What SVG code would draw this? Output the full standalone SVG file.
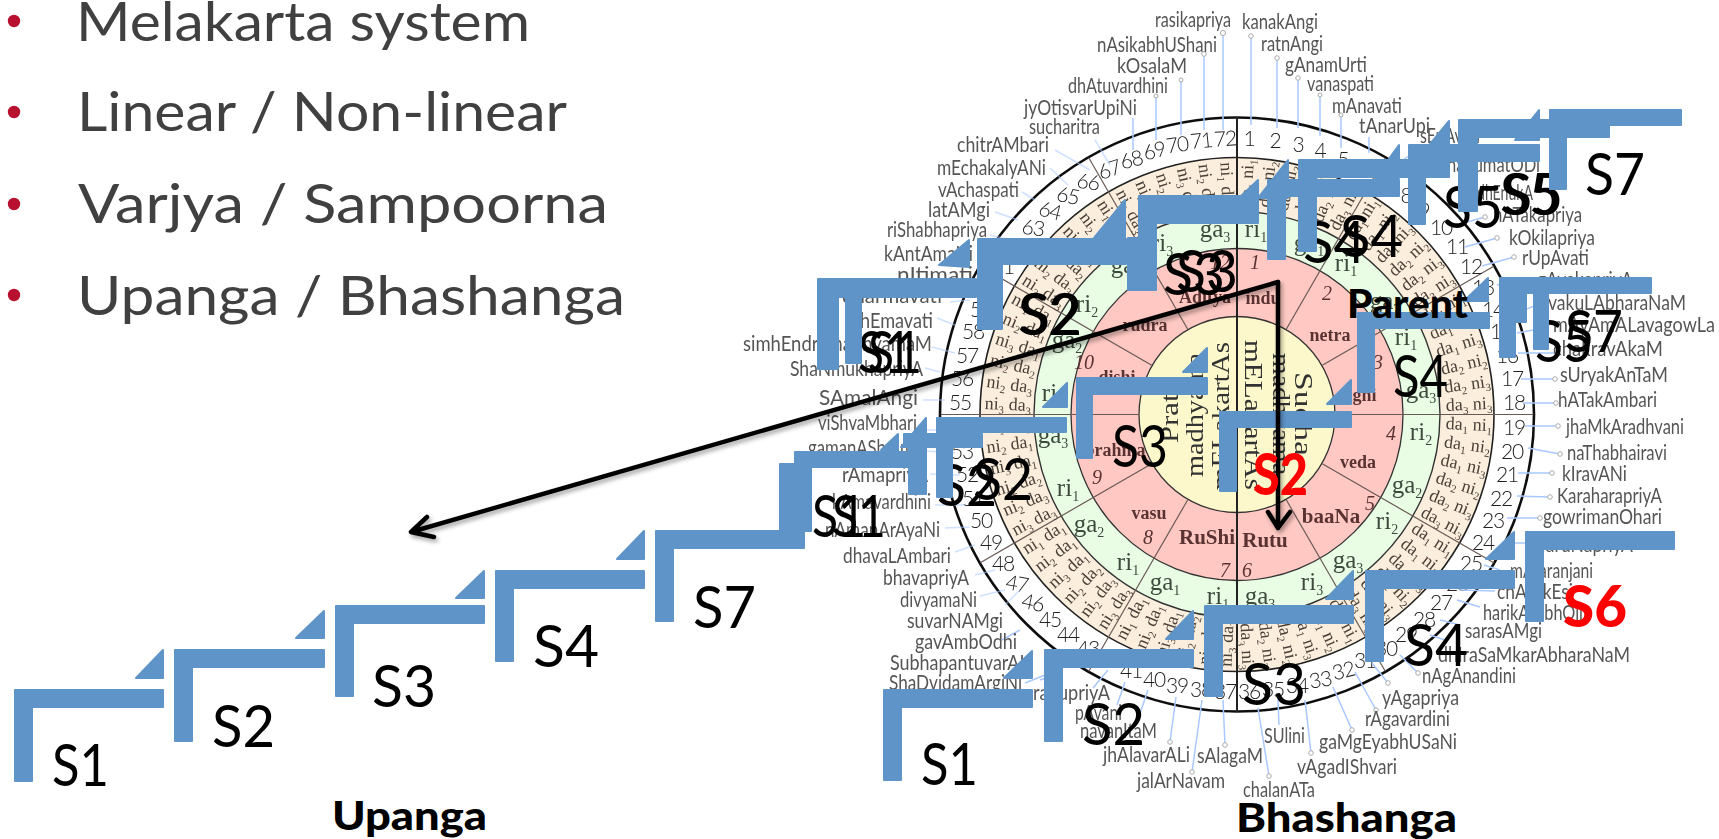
<svg xmlns="http://www.w3.org/2000/svg" width="1719" height="839" viewBox="0 0 1719 839">
<style>
.h{font:400 54px Lato,"Liberation Sans",sans-serif;fill:#404040}
.s{font:400 58px Lato,"Liberation Sans",sans-serif;fill:#000}
.t{font:900 39px Lato,"Liberation Sans",sans-serif;fill:#000}
.red{font-weight:900;fill:#f00}
.b{fill:#5f94c8;stroke:#5f94c8;stroke-width:2;stroke-linejoin:round}
.r{font:400 21px Lato,"Liberation Sans",sans-serif;fill:#555}
.n{font:300 21px Lato,"Liberation Sans",sans-serif;fill:#222;text-anchor:middle;letter-spacing:-1.2px}
.m{font:400 18px "Liberation Serif",serif;fill:#4a4038}
.e{text-anchor:end}
.g{font:400 25px "Liberation Serif",serif;fill:#3c4a3c;text-anchor:middle}
.c{font:700 18px "Liberation Serif",serif;fill:#5a3232;text-anchor:middle}
.d{font:italic 400 20px "Liberation Serif",serif;fill:#5a3232;text-anchor:middle}
.y{font:400 25px "Liberation Serif",serif;fill:#333}
.l{stroke:#a9c8ff;stroke-width:1.5;fill:none}
.o{fill:#fff;stroke:#aaa;stroke-width:1}
.k{fill:none;stroke:#000;stroke-width:4.5;stroke-linecap:round;stroke-linejoin:round}
.p{stroke:#6a5a55;stroke-width:1.2}
</style>
<defs>
<filter id="soft" x="-5%" y="-5%" width="110%" height="110%"><feGaussianBlur stdDeviation="0.4"/></filter>
<filter id="sh" x="-10%" y="-10%" width="120%" height="120%"><feDropShadow dx="2" dy="3" stdDeviation="2" flood-color="#000" flood-opacity=".35"/></filter>
<line id="sp" class="p" x1="1237" y1="118" x2="1237" y2="316"/>
<text id="m1" class="m" x="1446" y="420">da<tspan dy="4" font-size="11">1</tspan><tspan dy="-4"> ni</tspan><tspan dy="4" font-size="11">1</tspan></text>
<text id="m2" class="m" x="1446" y="420">da<tspan dy="4" font-size="11">1</tspan><tspan dy="-4"> ni</tspan><tspan dy="4" font-size="11">2</tspan></text>
<text id="m3" class="m" x="1446" y="420">da<tspan dy="4" font-size="11">1</tspan><tspan dy="-4"> ni</tspan><tspan dy="4" font-size="11">3</tspan></text>
<text id="m4" class="m" x="1446" y="420">da<tspan dy="4" font-size="11">2</tspan><tspan dy="-4"> ni</tspan><tspan dy="4" font-size="11">2</tspan></text>
<text id="m5" class="m" x="1446" y="420">da<tspan dy="4" font-size="11">2</tspan><tspan dy="-4"> ni</tspan><tspan dy="4" font-size="11">3</tspan></text>
<text id="m6" class="m" x="1446" y="420">da<tspan dy="4" font-size="11">3</tspan><tspan dy="-4"> ni</tspan><tspan dy="4" font-size="11">3</tspan></text>
<text id="n1" class="m e" x="1031" y="420">ni<tspan dy="4" font-size="11">3</tspan><tspan dy="-4"> da</tspan><tspan dy="4" font-size="11">3</tspan></text>
<text id="n2" class="m e" x="1031" y="420">ni<tspan dy="4" font-size="11">2</tspan><tspan dy="-4"> da</tspan><tspan dy="4" font-size="11">3</tspan></text>
<text id="n3" class="m e" x="1031" y="420">ni<tspan dy="4" font-size="11">2</tspan><tspan dy="-4"> da</tspan><tspan dy="4" font-size="11">2</tspan></text>
<text id="n4" class="m e" x="1031" y="420">ni<tspan dy="4" font-size="11">3</tspan><tspan dy="-4"> da</tspan><tspan dy="4" font-size="11">1</tspan></text>
<text id="n5" class="m e" x="1031" y="420">ni<tspan dy="4" font-size="11">2</tspan><tspan dy="-4"> da</tspan><tspan dy="4" font-size="11">1</tspan></text>
<text id="n6" class="m e" x="1031" y="420">ni<tspan dy="4" font-size="11">1</tspan><tspan dy="-4"> da</tspan><tspan dy="4" font-size="11">1</tspan></text>
</defs>
<rect width="1719" height="839" fill="#fff"/>

<g id="bullets">
<circle cx="14" cy="21" r="6.2" fill="#b8102f"/><circle cx="14" cy="112" r="6.2" fill="#b8102f"/><circle cx="14" cy="204" r="6.2" fill="#b8102f"/><circle cx="14" cy="295" r="6.2" fill="#b8102f"/>
<text class="h" x="76" y="41" textLength="454" lengthAdjust="spacingAndGlyphs">Melakarta system</text>
<text class="h" x="77" y="131" textLength="490" lengthAdjust="spacingAndGlyphs">Linear / Non-linear</text>
<text class="h" x="78" y="223" textLength="530" lengthAdjust="spacingAndGlyphs">Varjya / Sampoorna</text>
<text class="h" x="77" y="315" textLength="548" lengthAdjust="spacingAndGlyphs">Upanga / Bhashanga</text>
</g>

<g id="wheel" filter="url(#soft)">
<circle cx="1237" cy="414.5" r="297" fill="#fff" stroke="#111" stroke-width="2.6"/>
<circle cx="1237" cy="414.5" r="257" fill="#fbeedd" stroke="#222" stroke-width="1.6"/>
<circle cx="1237" cy="414.5" r="203" fill="#e9fde4" stroke="#333" stroke-width="1.4"/>
<circle cx="1237" cy="414.5" r="166" fill="#ffc8c2" stroke="#333" stroke-width="1.3"/>
<circle cx="1237" cy="414.5" r="98" fill="#fdf8cb" stroke="#333" stroke-width="1.3"/>
<use href="#sp" transform="rotate(30 1237 414.5)"/><use href="#sp" transform="rotate(60 1237 414.5)"/><use href="#sp" transform="rotate(90 1237 414.5)"/><use href="#sp" transform="rotate(120 1237 414.5)"/><use href="#sp" transform="rotate(150 1237 414.5)"/><use href="#sp" transform="rotate(210 1237 414.5)"/><use href="#sp" transform="rotate(240 1237 414.5)"/><use href="#sp" transform="rotate(270 1237 414.5)"/><use href="#sp" transform="rotate(300 1237 414.5)"/><use href="#sp" transform="rotate(330 1237 414.5)"/>
<line x1="1237" y1="117" x2="1237" y2="712" stroke="#222" stroke-width="2"/>

<use href="#m1" transform="rotate(-87.5 1237 414.5)"/><use href="#m2" transform="rotate(-82.5 1237 414.5)"/><use href="#m3" transform="rotate(-77.5 1237 414.5)"/><use href="#m4" transform="rotate(-72.5 1237 414.5)"/><use href="#m5" transform="rotate(-67.5 1237 414.5)"/><use href="#m6" transform="rotate(-62.5 1237 414.5)"/>
<use href="#m1" transform="rotate(-57.5 1237 414.5)"/><use href="#m2" transform="rotate(-52.5 1237 414.5)"/><use href="#m3" transform="rotate(-47.5 1237 414.5)"/><use href="#m4" transform="rotate(-42.5 1237 414.5)"/><use href="#m5" transform="rotate(-37.5 1237 414.5)"/><use href="#m6" transform="rotate(-32.5 1237 414.5)"/>
<use href="#m1" transform="rotate(-27.5 1237 414.5)"/><use href="#m2" transform="rotate(-22.5 1237 414.5)"/><use href="#m3" transform="rotate(-17.5 1237 414.5)"/><use href="#m4" transform="rotate(-12.5 1237 414.5)"/><use href="#m5" transform="rotate(-7.5 1237 414.5)"/><use href="#m6" transform="rotate(-2.5 1237 414.5)"/>
<use href="#m1" transform="rotate(2.5 1237 414.5)"/><use href="#m2" transform="rotate(7.5 1237 414.5)"/><use href="#m3" transform="rotate(12.5 1237 414.5)"/><use href="#m4" transform="rotate(17.5 1237 414.5)"/><use href="#m5" transform="rotate(22.5 1237 414.5)"/><use href="#m6" transform="rotate(27.5 1237 414.5)"/>
<use href="#m1" transform="rotate(32.5 1237 414.5)"/><use href="#m2" transform="rotate(37.5 1237 414.5)"/><use href="#m3" transform="rotate(42.5 1237 414.5)"/><use href="#m4" transform="rotate(47.5 1237 414.5)"/><use href="#m5" transform="rotate(52.5 1237 414.5)"/><use href="#m6" transform="rotate(57.5 1237 414.5)"/>
<use href="#m1" transform="rotate(62.5 1237 414.5)"/><use href="#m2" transform="rotate(67.5 1237 414.5)"/><use href="#m3" transform="rotate(72.5 1237 414.5)"/><use href="#m4" transform="rotate(77.5 1237 414.5)"/><use href="#m5" transform="rotate(82.5 1237 414.5)"/><use href="#m6" transform="rotate(87.5 1237 414.5)"/>

<use href="#n1" transform="rotate(-87.5 1237 414.5)"/><use href="#n2" transform="rotate(-82.5 1237 414.5)"/><use href="#n3" transform="rotate(-77.5 1237 414.5)"/><use href="#n4" transform="rotate(-72.5 1237 414.5)"/><use href="#n5" transform="rotate(-67.5 1237 414.5)"/><use href="#n6" transform="rotate(-62.5 1237 414.5)"/>
<use href="#n1" transform="rotate(-57.5 1237 414.5)"/><use href="#n2" transform="rotate(-52.5 1237 414.5)"/><use href="#n3" transform="rotate(-47.5 1237 414.5)"/><use href="#n4" transform="rotate(-42.5 1237 414.5)"/><use href="#n5" transform="rotate(-37.5 1237 414.5)"/><use href="#n6" transform="rotate(-32.5 1237 414.5)"/>
<use href="#n1" transform="rotate(-27.5 1237 414.5)"/><use href="#n2" transform="rotate(-22.5 1237 414.5)"/><use href="#n3" transform="rotate(-17.5 1237 414.5)"/><use href="#n4" transform="rotate(-12.5 1237 414.5)"/><use href="#n5" transform="rotate(-7.5 1237 414.5)"/><use href="#n6" transform="rotate(-2.5 1237 414.5)"/>
<use href="#n1" transform="rotate(2.5 1237 414.5)"/><use href="#n2" transform="rotate(7.5 1237 414.5)"/><use href="#n3" transform="rotate(12.5 1237 414.5)"/><use href="#n4" transform="rotate(17.5 1237 414.5)"/><use href="#n5" transform="rotate(22.5 1237 414.5)"/><use href="#n6" transform="rotate(27.5 1237 414.5)"/>
<use href="#n1" transform="rotate(32.5 1237 414.5)"/><use href="#n2" transform="rotate(37.5 1237 414.5)"/><use href="#n3" transform="rotate(42.5 1237 414.5)"/><use href="#n4" transform="rotate(47.5 1237 414.5)"/><use href="#n5" transform="rotate(52.5 1237 414.5)"/><use href="#n6" transform="rotate(57.5 1237 414.5)"/>
<use href="#n1" transform="rotate(62.5 1237 414.5)"/><use href="#n2" transform="rotate(67.5 1237 414.5)"/><use href="#n3" transform="rotate(72.5 1237 414.5)"/><use href="#n4" transform="rotate(77.5 1237 414.5)"/><use href="#n5" transform="rotate(82.5 1237 414.5)"/><use href="#n6" transform="rotate(87.5 1237 414.5)"/>

<g font-size="25">
<text class="g" x="1256" y="237">ri<tspan dy="5" font-size="14">1</tspan></text>
<text class="g" x="1309" y="251">ga<tspan dy="5" font-size="14">1</tspan></text>
<text class="g" x="1346" y="271">ri<tspan dy="5" font-size="14">1</tspan></text>
<text class="g" x="1385" y="309">ga<tspan dy="5" font-size="14">2</tspan></text>
<text class="g" x="1406" y="345">ri<tspan dy="5" font-size="14">1</tspan></text>
<text class="g" x="1421" y="398">ga<tspan dy="5" font-size="14">3</tspan></text>
<text class="g" x="1421" y="440">ri<tspan dy="5" font-size="14">2</tspan></text>
<text class="g" x="1407" y="493">ga<tspan dy="5" font-size="14">2</tspan></text>
<text class="g" x="1387" y="529">ri<tspan dy="5" font-size="14">2</tspan></text>
<text class="g" x="1348" y="568">ga<tspan dy="5" font-size="14">3</tspan></text>
<text class="g" x="1312" y="590">ri<tspan dy="5" font-size="14">3</tspan></text>
<text class="g" x="1260" y="604">ga<tspan dy="5" font-size="14">3</tspan></text>
<text class="g" x="1218" y="604">ri<tspan dy="5" font-size="14">1</tspan></text>
<text class="g" x="1165" y="590">ga<tspan dy="5" font-size="14">1</tspan></text>
<text class="g" x="1128" y="570">ri<tspan dy="5" font-size="14">1</tspan></text>
<text class="g" x="1089" y="532">ga<tspan dy="5" font-size="14">2</tspan></text>
<text class="g" x="1068" y="496">ri<tspan dy="5" font-size="14">1</tspan></text>
<text class="g" x="1053" y="443">ga<tspan dy="5" font-size="14">3</tspan></text>
<text class="g" x="1053" y="401">ri<tspan dy="5" font-size="14">2</tspan></text>
<text class="g" x="1067" y="348">ga<tspan dy="5" font-size="14">2</tspan></text>
<text class="g" x="1087" y="312">ri<tspan dy="5" font-size="14">2</tspan></text>
<text class="g" x="1126" y="273">ga<tspan dy="5" font-size="14">3</tspan></text>
<text class="g" x="1162" y="251">ri<tspan dy="5" font-size="14">3</tspan></text>
<text class="g" x="1215" y="237">ga<tspan dy="5" font-size="14">3</tspan></text>
</g>

<text class="c" x="1263" y="304">indu</text>
<text class="c" x="1330" y="341">netra</text>
<text class="c" x="1360" y="401">agni</text>
<text class="c" x="1358" y="468">veda</text>
<text class="c" x="1331" y="523" style="font-size:21px">baaNa</text>
<text class="c" x="1265" y="547" style="font-size:21px">Rutu</text>
<text class="c" x="1207" y="544" style="font-size:21px">RuShi</text>
<text class="c" x="1149" y="519">vasu</text>
<text class="c" x="1115" y="456">brahma</text>
<text class="c" x="1117" y="383">dishi</text>
<text class="c" x="1145" y="331">rudra</text>
<text class="c" x="1205" y="303">Aditya</text>
<text class="d" x="1255" y="269">1</text><text class="d" x="1327" y="300">2</text><text class="d" x="1378" y="369">3</text><text class="d" x="1391" y="440">4</text><text class="d" x="1370" y="510">5</text><text class="d" x="1247" y="577">6</text><text class="d" x="1225" y="577">7</text><text class="d" x="1148" y="544">8</text><text class="d" x="1097" y="484">9</text><text class="d" x="1084" y="369">10</text><text class="d" x="1148" y="290">11</text><text class="d" x="1220" y="269">12</text>

<text class="y" transform="translate(1245 340) rotate(90)" textLength="150" lengthAdjust="spacingAndGlyphs">mELakartAs</text>
<text class="y" transform="translate(1273 353) rotate(90)" textLength="122" lengthAdjust="spacingAndGlyphs">madhyama</text>
<text class="y" transform="translate(1295 372) rotate(90)" textLength="84" lengthAdjust="spacingAndGlyphs">Sudha</text>
<text class="y" transform="translate(1229 490) rotate(-90)" textLength="148" lengthAdjust="spacingAndGlyphs">mELakartAs</text>
<text class="y" transform="translate(1203 477) rotate(-90)" textLength="124" lengthAdjust="spacingAndGlyphs">madhyama</text>
<text class="y" transform="translate(1178 443) rotate(-90)" textLength="58" lengthAdjust="spacingAndGlyphs">Prati</text>

<g id="numbers">
<text class="n" x="1249" y="146">1</text><text class="n" x="1275" y="148">2</text><text class="n" x="1298" y="152">3</text><text class="n" x="1320" y="158">4</text><text class="n" x="1343" y="167">5</text><text class="n" x="1365" y="177">6</text><text class="n" x="1386" y="189">7</text><text class="n" x="1406" y="203">8</text><text class="n" x="1424" y="218">9</text><text class="n" x="1441" y="235">10</text><text class="n" x="1457" y="254">11</text><text class="n" x="1471" y="274">12</text><text class="n" x="1483" y="295">13</text><text class="n" x="1493" y="317">14</text><text class="n" x="1501" y="339">15</text><text class="n" x="1507" y="363">16</text><text class="n" x="1512" y="386">17</text><text class="n" x="1514" y="410">18</text>
<text class="n" x="1514" y="435">19</text><text class="n" x="1512" y="459">20</text><text class="n" x="1507" y="482">21</text><text class="n" x="1501" y="506">22</text><text class="n" x="1493" y="528">23</text><text class="n" x="1483" y="550">24</text><text class="n" x="1471" y="571">25</text><text class="n" x="1457" y="591">26</text><text class="n" x="1441" y="610">27</text><text class="n" x="1424" y="627">28</text><text class="n" x="1406" y="642">29</text><text class="n" x="1386" y="656">30</text><text class="n" x="1365" y="668">31</text><text class="n" x="1343" y="678" transform="rotate(-14 1343 670)">32</text><text class="n" x="1320" y="687" transform="rotate(-10 1320 679)">33</text><text class="n" x="1297" y="693">34</text><text class="n" x="1273" y="697">35</text><text class="n" x="1249" y="699">36</text>
<text class="n" x="1225" y="699">37</text><text class="n" x="1201" y="697">38</text><text class="n" x="1177" y="693">39</text><text class="n" x="1154" y="687">40</text><text class="n" x="1131" y="678">41</text><text class="n" x="1109" y="668">42</text><text class="n" x="1088" y="656">43</text><text class="n" x="1068" y="642">44</text><text class="n" x="1050" y="627">45</text><text class="n" x="1033" y="610" transform="rotate(12 1033 602)">46</text><text class="n" x="1017" y="591" transform="rotate(10 1017 583)">47</text><text class="n" x="1003" y="571">48</text><text class="n" x="991" y="550">49</text><text class="n" x="981" y="528">50</text><text class="n" x="973" y="506">51</text><text class="n" x="967" y="482">52</text><text class="n" x="962" y="459">53</text><text class="n" x="960" y="435">54</text>
<text class="n" x="960" y="410">55</text><text class="n" x="962" y="386">56</text><text class="n" x="967" y="363">57</text><text class="n" x="973" y="339">58</text><text class="n" x="981" y="317">59</text><text class="n" x="991" y="295">60</text><text class="n" x="1003" y="274">61</text><text class="n" x="1017" y="254">62</text><text class="n" x="1033" y="235" transform="rotate(8 1033 227)">63</text><text class="n" x="1050" y="218" transform="rotate(14 1050 210)">64</text><text class="n" x="1068" y="203" transform="rotate(12 1068 195)">65</text><text class="n" x="1088" y="189" transform="rotate(8 1088 181)">66</text><text class="n" x="1109" y="177" transform="rotate(-18 1109 169)">67</text><text class="n" x="1131" y="167" transform="rotate(-14 1131 159)">68</text><text class="n" x="1154" y="158" transform="rotate(-14 1154 150)">69</text><text class="n" x="1177" y="152" transform="rotate(-8 1177 144)">70</text><text class="n" x="1201" y="148" transform="rotate(-6 1201 140)">71</text><text class="n" x="1225" y="146" transform="rotate(-4 1225 138)">72</text>
</g>

<g id="leaders">
<path class="l" d="M1251 37V125M1277 58V128M1298 78V128M1320 95V136M1341 115V148M1369 137V153M1403 160L1420 148M1467 222L1485 217M1465 247L1497 238M1482 266L1514 257M1497 285L1530 278M1517 313L1539 304M1517 333L1545 328M1518 353L1555 353M1521 379L1555 379M1523 403L1556 403M1525 426L1558 426M1528 448L1560 454M1518 473L1552 473M1517 496L1550 497M1507 518L1540 518M1515 543L1530 543M1484 565L1500 570M1460 590L1495 591M1457 600L1480 607M1440 620L1460 625M1430 635L1445 640M1400 655L1418 673M1372 663L1388 683M1355 672L1376 710M1333 687L1352 730M1305 700L1311 753M1278 700L1279 725M1258 708L1269 776M1223 700L1225 745M1202 700L1192 772M1176 697L1170 742M1148 690L1137 722M1125 682L1117 705M1108 670L1093 688M1040 680L1055 675M1045 675L1025 683M1020 630L1002 640"/>
<path class="l" opacity=".55" d="M1005 605L1020 590M980 596L1005 590M975 575L995 570M955 552L975 545M945 528L970 527M935 505L965 505M930 474L960 475M925 451L955 453M925 430L950 430M923 400L945 400M925 368L940 372M932 347L955 353M937 318L955 325M950 302L970 300M990 235L1010 240M995 212L1018 220M1022 192L1035 200M1050 168L1068 185M1055 150L1090 170M1095 140L1110 165"/>
<path class="l" d="M1133 118V150M1156 96V140M1181 80V135M1204 55V130M1223 34V130"/>
<circle class="o" cx="1251" cy="36" r="2.3"/><circle class="o" cx="1277" cy="58" r="2.3"/><circle class="o" cx="1298" cy="78" r="2.3"/><circle class="o" cx="1320" cy="95" r="2"/><circle class="o" cx="1341" cy="115" r="2"/><circle class="o" cx="1485" cy="217" r="2.3"/><circle class="o" cx="1497" cy="238" r="2.3"/><circle class="o" cx="1514" cy="257" r="2.3"/><circle class="o" cx="1539" cy="304" r="2.3"/><circle class="o" cx="1555" cy="379" r="2.3"/><circle class="o" cx="1556" cy="403" r="2.3"/><circle class="o" cx="1558" cy="426" r="2.3"/><circle class="o" cx="1560" cy="454" r="2.3"/><circle class="o" cx="1552" cy="473" r="2.3"/><circle class="o" cx="1550" cy="497" r="2.3"/><circle class="o" cx="1540" cy="518" r="2.3"/><circle class="o" cx="1418" cy="673" r="2.3"/><circle class="o" cx="1388" cy="683" r="2.3"/><circle class="o" cx="1376" cy="710" r="2.3"/><circle class="o" cx="1352" cy="730" r="2.3"/><circle class="o" cx="1311" cy="753" r="2.3"/><circle class="o" cx="1269" cy="776" r="2.3"/><circle class="o" cx="1225" cy="745" r="2.3"/><circle class="o" cx="1192" cy="772" r="2.3"/><circle class="o" cx="1170" cy="742" r="2.3"/><circle class="o" cx="1223" cy="33" r="2.6"/><circle class="o" cx="1204" cy="54" r="2.3"/><circle class="o" cx="1181" cy="80" r="2"/><circle class="o" cx="1156" cy="96" r="2"/>
</g>

<g id="ragas">
<text class="r" x="1155" y="27" textLength="76" lengthAdjust="spacingAndGlyphs">rasikapriya</text>
<text class="r" x="1097" y="52" textLength="120" lengthAdjust="spacingAndGlyphs">nAsikabhUShani</text>
<text class="r" x="1117" y="73" textLength="70" lengthAdjust="spacingAndGlyphs">kOsalaM</text>
<text class="r" x="1068" y="93" textLength="100" lengthAdjust="spacingAndGlyphs">dhAtuvardhini</text>
<text class="r" x="1024" y="115" textLength="113" lengthAdjust="spacingAndGlyphs">jyOtisvarUpiNi</text>
<text class="r" x="1029" y="134" textLength="71" lengthAdjust="spacingAndGlyphs">sucharitra</text>
<text class="r" x="957" y="152" textLength="92" lengthAdjust="spacingAndGlyphs">chitrAMbari</text>
<text class="r" x="937" y="175" textLength="109" lengthAdjust="spacingAndGlyphs">mEchakalyANi</text>
<text class="r" x="938" y="197" textLength="81" lengthAdjust="spacingAndGlyphs">vAchaspati</text>
<text class="r" x="928" y="217" textLength="62" lengthAdjust="spacingAndGlyphs">latAMgi</text>
<text class="r" x="887" y="237" textLength="100" lengthAdjust="spacingAndGlyphs">riShabhapriya</text>
<text class="r" x="884" y="261" textLength="89" lengthAdjust="spacingAndGlyphs">kAntAmaNi</text>
<text class="r" x="897" y="282" textLength="76" lengthAdjust="spacingAndGlyphs">nItimati</text>
<text class="r" x="842" y="303" textLength="100" lengthAdjust="spacingAndGlyphs">dharmavati</text>
<text class="r" x="860" y="328" textLength="73" lengthAdjust="spacingAndGlyphs">hEmavati</text>
<text class="r" x="743" y="351" textLength="189" lengthAdjust="spacingAndGlyphs">simhEndramadhyamaM</text>
<text class="r" x="790" y="376" textLength="133" lengthAdjust="spacingAndGlyphs">ShaNmukhapriyA</text>
<text class="r" x="819" y="405" textLength="99" lengthAdjust="spacingAndGlyphs">SAmalAngi</text>
<text class="r" x="818" y="430" textLength="99" lengthAdjust="spacingAndGlyphs">viShvaMbhari</text>
<text class="r" x="808" y="455" textLength="114" lengthAdjust="spacingAndGlyphs">gamanAShrama</text>
<text class="r" x="842" y="482" textLength="86" lengthAdjust="spacingAndGlyphs">rAmapriyA</text>
<text class="r" x="832" y="509" textLength="99" lengthAdjust="spacingAndGlyphs">kAmavardhini</text>
<text class="r" x="825" y="537" textLength="115" lengthAdjust="spacingAndGlyphs">nAmanArAyaNi</text>
<text class="r" x="843" y="563" textLength="108" lengthAdjust="spacingAndGlyphs">dhavaLAmbari</text>
<text class="r" x="883" y="585" textLength="86" lengthAdjust="spacingAndGlyphs">bhavapriyA</text>
<text class="r" x="900" y="607" textLength="77" lengthAdjust="spacingAndGlyphs">divyamaNi</text>
<text class="r" x="907" y="628" textLength="96" lengthAdjust="spacingAndGlyphs">suvarNAMgi</text>
<text class="r" x="915" y="649" textLength="102" lengthAdjust="spacingAndGlyphs">gavAmbOdhi</text>
<text class="r" x="890" y="670" textLength="143" lengthAdjust="spacingAndGlyphs">SubhapantuvarALi</text>
<text class="r" x="889" y="690" textLength="133" lengthAdjust="spacingAndGlyphs">ShaDvidamArgiNi</text>
<text class="r" x="1033" y="700" textLength="77" lengthAdjust="spacingAndGlyphs">ragupriyA</text>
<text class="r" x="1075" y="720" textLength="47" lengthAdjust="spacingAndGlyphs">pAvani</text>
<text class="r" x="1080" y="738" textLength="77" lengthAdjust="spacingAndGlyphs">navanItaM</text>
<text class="r" x="1103" y="762" textLength="87" lengthAdjust="spacingAndGlyphs">jhAlavarALi</text>
<text class="r" x="1197" y="763" textLength="66" lengthAdjust="spacingAndGlyphs">sAlagaM</text>
<text class="r" x="1137" y="788" textLength="88" lengthAdjust="spacingAndGlyphs">jalArNavam</text>
<text class="r" x="1243" y="797" textLength="72" lengthAdjust="spacingAndGlyphs">chalanATa</text>
<text class="r" x="1264" y="743" textLength="41" lengthAdjust="spacingAndGlyphs">SUlini</text>
<text class="r" x="1297" y="774" textLength="100" lengthAdjust="spacingAndGlyphs">vAgadIShvari</text>
<text class="r" x="1319" y="749" textLength="138" lengthAdjust="spacingAndGlyphs">gaMgEyabhUSaNi</text>
<text class="r" x="1365" y="726" textLength="85" lengthAdjust="spacingAndGlyphs">rAgavardini</text>
<text class="r" x="1382" y="705" textLength="77" lengthAdjust="spacingAndGlyphs">yAgapriya</text>
<text class="r" x="1422" y="683" textLength="94" lengthAdjust="spacingAndGlyphs">nAgAnandini</text>
<text class="r" x="1438" y="662" textLength="192" lengthAdjust="spacingAndGlyphs">dhIraSaMkarAbharaNaM</text>
<text class="r" x="1465" y="638" textLength="77" lengthAdjust="spacingAndGlyphs">sarasAMgi</text>
<text class="r" x="1483" y="620" textLength="100" lengthAdjust="spacingAndGlyphs">harikAMbhOji</text>
<text class="r" x="1497" y="599" textLength="76" lengthAdjust="spacingAndGlyphs">chArukEsi</text>
<text class="r" x="1510" y="578" textLength="83" lengthAdjust="spacingAndGlyphs">mAraranjani</text>
<text class="r" x="1537" y="552" textLength="96" lengthAdjust="spacingAndGlyphs">varuNapriyA</text>
<text class="r" x="1543" y="524" textLength="119" lengthAdjust="spacingAndGlyphs">gowrimanOhari</text>
<text class="r" x="1557" y="503" textLength="105" lengthAdjust="spacingAndGlyphs">KaraharapriyA</text>
<text class="r" x="1562" y="481" textLength="65" lengthAdjust="spacingAndGlyphs">kIravANi</text>
<text class="r" x="1567" y="460" textLength="100" lengthAdjust="spacingAndGlyphs">naThabhairavi</text>
<text class="r" x="1566" y="434" textLength="118" lengthAdjust="spacingAndGlyphs">jhaMkAradhvani</text>
<text class="r" x="1558" y="407" textLength="99" lengthAdjust="spacingAndGlyphs">hATakAmbari</text>
<text class="r" x="1560" y="382" textLength="108" lengthAdjust="spacingAndGlyphs">sUryakAnTaM</text>
<text class="r" x="1553" y="356" textLength="110" lengthAdjust="spacingAndGlyphs">chakravAkaM</text>
<text class="r" x="1553" y="332" textLength="162" lengthAdjust="spacingAndGlyphs">mAyAmALavagowLa</text>
<text class="r" x="1548" y="310" textLength="138" lengthAdjust="spacingAndGlyphs">vakuLAbharaNaM</text>
<text class="r" x="1537" y="287" textLength="96" lengthAdjust="spacingAndGlyphs">gAyakapriyA</text>
<text class="r" x="1522" y="265" textLength="67" lengthAdjust="spacingAndGlyphs">rUpAvati</text>
<text class="r" x="1509" y="245" textLength="86" lengthAdjust="spacingAndGlyphs">kOkilapriya</text>
<text class="r" x="1493" y="222" textLength="89" lengthAdjust="spacingAndGlyphs">nATakapriya</text>
<text class="r" x="1477" y="200" textLength="56" lengthAdjust="spacingAndGlyphs">dhEnukA</text>
<text class="r" x="1447" y="172" textLength="93" lengthAdjust="spacingAndGlyphs">hanumatODi</text>
<text class="r" x="1420" y="143" textLength="60" lengthAdjust="spacingAndGlyphs">sEnAvati</text>
<text class="r" x="1359" y="133" textLength="71" lengthAdjust="spacingAndGlyphs">tAnarUpi</text>
<text class="r" x="1332" y="113" textLength="70" lengthAdjust="spacingAndGlyphs">mAnavati</text>
<text class="r" x="1307" y="91" textLength="67" lengthAdjust="spacingAndGlyphs">vanaspati</text>
<text class="r" x="1285" y="72" textLength="82" lengthAdjust="spacingAndGlyphs">gAnamUrti</text>
<text class="r" x="1261" y="51" textLength="62" lengthAdjust="spacingAndGlyphs">ratnAngi</text>
<text class="r" x="1242" y="29" textLength="76" lengthAdjust="spacingAndGlyphs">kanakAngi</text>
</g>
</g>

<g id="step-labels">
<text class="s" x="52" y="786" textLength="57" lengthAdjust="spacingAndGlyphs">S1</text>
<text class="s" x="212" y="747" textLength="63" lengthAdjust="spacingAndGlyphs">S2</text>
<text class="s" x="372" y="707" textLength="64" lengthAdjust="spacingAndGlyphs">S3</text>
<text class="s" x="533" y="667" textLength="66" lengthAdjust="spacingAndGlyphs">S4</text>
<text class="s" x="693" y="628" textLength="63" lengthAdjust="spacingAndGlyphs">S7</text>
<text class="s" x="921" y="785" textLength="57" lengthAdjust="spacingAndGlyphs">S1</text>
<text class="s" x="1082" y="745" textLength="63" lengthAdjust="spacingAndGlyphs">S2</text>
<text class="s" x="1242" y="705" textLength="64" lengthAdjust="spacingAndGlyphs">S3</text>
<text class="s" x="1404" y="666" textLength="64" lengthAdjust="spacingAndGlyphs">S4</text>
<text class="s" x="858" y="373" textLength="54" lengthAdjust="spacingAndGlyphs">S1</text>
<text class="s" x="868" y="373" textLength="54" lengthAdjust="spacingAndGlyphs">S1</text>
<text class="s" x="1018" y="335" textLength="62" lengthAdjust="spacingAndGlyphs">S2</text>
<text class="s" x="1020" y="335" textLength="62" lengthAdjust="spacingAndGlyphs">S2</text>
<text class="s" x="1163" y="295" textLength="62" lengthAdjust="spacingAndGlyphs">S3</text>
<text class="s" x="1176" y="292" textLength="62" lengthAdjust="spacingAndGlyphs">S3</text>
<text class="s" x="1303" y="263" textLength="63" lengthAdjust="spacingAndGlyphs">S4</text>
<text class="s" x="1340" y="257" textLength="63" lengthAdjust="spacingAndGlyphs">S4</text>
<text class="s" x="1443" y="228" textLength="60" lengthAdjust="spacingAndGlyphs">S5</text>
<text class="s" x="1500" y="215" textLength="60" lengthAdjust="spacingAndGlyphs">S5</text>
<text class="s" x="1503" y="215" textLength="60" lengthAdjust="spacingAndGlyphs">S5</text>
<text class="s" x="1585" y="195" textLength="60" lengthAdjust="spacingAndGlyphs">S7</text>
<text class="s" x="1393" y="397" textLength="55" lengthAdjust="spacingAndGlyphs">S4</text>
<text class="s" x="1535" y="362" textLength="58" lengthAdjust="spacingAndGlyphs">S5</text>
<text class="s" x="1565" y="352" textLength="58" lengthAdjust="spacingAndGlyphs">S7</text>
<text class="s" x="812" y="537" textLength="54" lengthAdjust="spacingAndGlyphs">S1</text>
<text class="s" x="832" y="537" textLength="54" lengthAdjust="spacingAndGlyphs">S1</text>
<text class="s" x="937" y="506" textLength="60" lengthAdjust="spacingAndGlyphs">S2</text>
<text class="s" x="973" y="500" textLength="60" lengthAdjust="spacingAndGlyphs">S2</text>
<text class="s" x="1112" y="467" textLength="56" lengthAdjust="spacingAndGlyphs">S3</text>
</g>

<g id="steps-upanga">
<g id="u1"><polygon class="b" points="15,781 15,690 163,690 163,707 32,707 32,781"/><polygon class="b" points="163,650 163,678 136,678"/></g>
<g id="u2"><polygon class="b" points="175,741 175,650 324,650 324,667 192,667 192,741"/><polygon class="b" points="324,611 324,638 296,638"/></g>
<g id="u3"><polygon class="b" points="336,696 336,606 484,606 484,623 353,623 353,696"/><polygon class="b" points="484,571 484,598 456,598"/></g>
<g id="u4"><polygon class="b" points="496,661 496,571 644,571 644,588 513,588 513,661"/><polygon class="b" points="644,531 644,559 617,559"/></g>
<g id="u5"><polygon class="b" points="656,621 656,531 804,531 804,548 673,548 673,621"/></g>
</g>
<g id="steps-bhashanga">
<g id="b1"><polygon class="b" points="884,780 884,690 1032,690 1032,707 901,707 901,780"/><polygon class="b" points="1032,651 1032,678 1004,678"/></g>
<g id="b2"><polygon class="b" points="1045,741 1045,650 1193,650 1193,667 1062,667 1062,741"/><polygon class="b" points="1193,611 1193,639 1166,639"/></g>
<g id="b3"><polygon class="b" points="1205,696 1205,606 1353,606 1353,623 1222,623 1222,696"/><polygon class="b" points="1353,571 1353,599 1326,599"/></g>
<g id="b4"><polygon class="b" points="1366,661 1366,571 1514,571 1514,588 1383,588 1383,661"/><polygon class="b" points="1514,532 1514,559 1486,559"/></g>
<g id="b5"><polygon class="b" points="1526,621 1526,532 1674,532 1674,549 1543,549 1543,621"/></g>
</g>
<g id="steps-mid">
<g id="m-a"><polygon class="b" points="780,464 811,464 811,531 780,531"/><polygon class="b" points="795,452 926,452 926,467 795,467"/><polygon class="b" points="898,434 898,450 881,450"/></g>
<g id="m-b"><polygon class="b" points="926,418 926,447 901,447"/><polygon class="b" points="904,434 982,434 982,447 926,447 926,494 909,494 909,447 904,447"/></g>
<g id="m-c"><polygon class="b" points="937,497 937,418 1066,418 1066,432 952,432 952,497"/><polygon class="b" points="1067,383 1067,407 1043,407"/></g>
<g id="m-d"><polygon class="b" points="1077,458 1077,378 1207,378 1207,394 1092,394 1092,458"/><polygon class="b" points="1207,348 1207,372 1183,372"/></g>
<g id="m-e"><polygon class="b" points="1220,491 1220,412 1351,412 1351,427 1236,427 1236,491"/><polygon class="b" points="1351,380 1351,404 1327,404"/></g>
<g id="m-f"><polygon class="b" points="1358,392 1358,313 1489,313 1489,328 1374,328 1374,392"/><polygon class="b" points="1488,278 1488,301 1464,301"/></g>
<g id="m-g"><polygon class="b" points="1500,357 1500,278 1629,278 1629,293 1515,293 1515,357"/><polygon class="b" points="1534,349 1534,278 1651,278 1651,293 1548,293 1548,349"/><polygon class="b" points="1516,294 1526,294 1526,322 1516,322"/></g>
</g>
<g id="steps-top">
<g id="t1"><polygon class="b" points="818,369 818,279 976,279 976,297 838,297 838,369"/><polygon class="b" points="846,297 861,297 861,363 846,363"/><polygon class="b" points="969,240 969,267 939,265"/></g>
<g id="t2"><polygon class="b" points="978,329 978,239 1126,239 1126,264 1002,264 1002,329"/><polygon class="b" points="1125,200 1125,238 1094,238"/></g>
<g id="t3"><polygon class="b" points="1139,196 1258,196 1258,223 1156,223 1156,290 1128,290 1128,238 1139,238"/><polygon class="b" points="1258,180 1258,197 1240,197"/><polygon class="b" points="1288,160 1288,198 1258,198"/></g>
<g id="t4"><polygon class="b" points="1268,259 1268,180 1399,180 1399,196 1285,196 1285,259"/><polygon class="b" points="1399,145 1399,178 1375,178"/></g>
<g id="t5"><polygon class="b" points="1299,251 1299,160 1449,160 1449,177 1316,177 1316,251"/><polygon class="b" points="1449,121 1449,160 1417,160"/></g>
<g id="t6"><polygon class="b" points="1409,224 1409,145 1539,145 1539,161 1425,161 1425,224"/><polygon class="b" points="1539,110 1539,140 1515,140"/></g>
<g id="t7"><polygon class="b" points="1459,211 1459,120 1609,120 1609,137 1477,137 1477,211"/></g>
<g id="t8"><polygon class="b" points="1550,189 1550,110 1681,110 1681,125 1566,125 1566,189"/></g>
</g>

<g id="connectors" filter="url(#sh)">
<path class="k" d="M1278 282L411 532M427 517L411 532L434 537"/>
<path class="k" d="M1278 282V528M1268 512L1278 528L1290 512"/>
</g>

<g id="titles">
<text class="t" x="1347" y="318" textLength="121" lengthAdjust="spacingAndGlyphs">Parent</text>
<text class="s red" x="1253" y="495" textLength="55" lengthAdjust="spacingAndGlyphs">S2</text>
<text class="s red" x="1563" y="627" textLength="64" lengthAdjust="spacingAndGlyphs">S6</text>
<text class="t" x="332" y="830" textLength="155" lengthAdjust="spacingAndGlyphs">Upanga</text>
<text class="t" x="1236" y="832" textLength="221" lengthAdjust="spacingAndGlyphs">Bhashanga</text>
</g>
</svg>
